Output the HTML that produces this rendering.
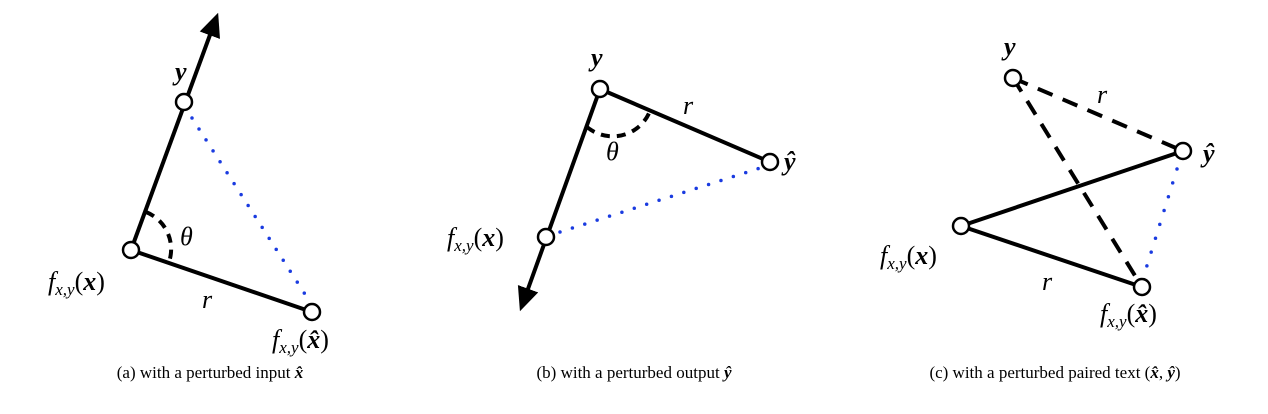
<!DOCTYPE html>
<html><head><meta charset="utf-8"><style>
html,body{margin:0;padding:0;background:#fff;}
svg{display:block;}
text{font-family:"Liberation Serif",serif;fill:#000;}
.m{font-style:italic;font-size:26px;}
.cap{font-size:17px;}
</style></head><body>
<svg width="1268" height="414" viewBox="0 0 1268 414">
<defs><marker id="ah" markerWidth="6" markerHeight="6" refX="3" refY="3" orient="auto" markerUnits="strokeWidth"><path d="M0,0.3 L6,3 L0,5.7 Z" fill="#000"/></marker></defs>
<g>
<line x1="131" y1="250" x2="214" y2="24" stroke="#000" stroke-width="4" marker-end="url(#ah)"/>
<line x1="131" y1="250" x2="312" y2="312" stroke="#000" stroke-width="4"/>
<line x1="192" y1="118" x2="310" y2="302" stroke="#1a3be0" stroke-width="3.5" stroke-dasharray="0 13" stroke-linecap="round"/>
<path d="M146,212 A40,40 0 0 1 169,262" fill="none" stroke="#000" stroke-width="4" stroke-dasharray="9 7"/>
<circle cx="131" cy="250" r="8" fill="#fff" stroke="#000" stroke-width="2.5"/>
<circle cx="184" cy="102" r="8" fill="#fff" stroke="#000" stroke-width="2.5"/>
<circle cx="312" cy="312" r="8" fill="#fff" stroke="#000" stroke-width="2.5"/>
<text class="m" x="175" y="80" font-weight="bold">y</text>
<text class="m" x="180" y="245">θ</text>
<text class="m" x="48" y="290">f<tspan font-size="17" dy="5">x,y</tspan><tspan dy="-5" font-style="normal">(</tspan><tspan font-weight="bold">x</tspan><tspan font-style="normal">)</tspan></text>
<text class="m" x="202" y="308">r</text>
<text class="m" x="272" y="348">f<tspan font-size="17" dy="5">x,y</tspan><tspan dy="-5" font-style="normal">(</tspan><tspan font-weight="bold">x̂</tspan><tspan font-style="normal">)</tspan></text>
<text class="cap" x="210" y="378" text-anchor="middle">(a) with a perturbed input <tspan font-style="italic" font-weight="bold">x̂</tspan></text>
</g>
<g>
<line x1="600" y1="89" x2="524" y2="300" stroke="#000" stroke-width="4" marker-end="url(#ah)"/>
<line x1="600" y1="89" x2="770" y2="162" stroke="#000" stroke-width="4"/>
<line x1="560" y1="232" x2="760" y2="168" stroke="#1a3be0" stroke-width="3.5" stroke-dasharray="0 13" stroke-linecap="round"/>
<path d="M587,127 A40,40 0 0 0 651,108" fill="none" stroke="#000" stroke-width="4" stroke-dasharray="9 7"/>
<circle cx="600" cy="89" r="8" fill="#fff" stroke="#000" stroke-width="2.5"/>
<circle cx="770" cy="162" r="8" fill="#fff" stroke="#000" stroke-width="2.5"/>
<circle cx="546" cy="237" r="8" fill="#fff" stroke="#000" stroke-width="2.5"/>
<text class="m" x="591" y="66" font-weight="bold">y</text>
<text class="m" x="784" y="170" font-weight="bold">ŷ</text>
<text class="m" x="606" y="160">θ</text>
<text class="m" x="683" y="114">r</text>
<text class="m" x="447" y="246">f<tspan font-size="17" dy="5">x,y</tspan><tspan dy="-5" font-style="normal">(</tspan><tspan font-weight="bold">x</tspan><tspan font-style="normal">)</tspan></text>
<text class="cap" x="634" y="378" text-anchor="middle">(b) with a perturbed output <tspan font-style="italic" font-weight="bold">ŷ</tspan></text>
</g>
<g>
<line x1="1013" y1="78" x2="1183" y2="151" stroke="#000" stroke-width="4" stroke-dasharray="16 11"/>
<line x1="1013" y1="78" x2="1142" y2="287" stroke="#000" stroke-width="4" stroke-dasharray="16 11"/>
<line x1="961" y1="226" x2="1183" y2="151" stroke="#000" stroke-width="4"/>
<line x1="961" y1="226" x2="1142" y2="287" stroke="#000" stroke-width="4"/>
<line x1="1177" y1="169" x2="1145" y2="272" stroke="#1a3be0" stroke-width="3.5" stroke-dasharray="0 14.5" stroke-linecap="round"/>
<circle cx="1013" cy="78" r="8" fill="#fff" stroke="#000" stroke-width="2.5"/>
<circle cx="1183" cy="151" r="8" fill="#fff" stroke="#000" stroke-width="2.5"/>
<circle cx="961" cy="226" r="8" fill="#fff" stroke="#000" stroke-width="2.5"/>
<circle cx="1142" cy="287" r="8" fill="#fff" stroke="#000" stroke-width="2.5"/>
<text class="m" x="1004" y="55" font-weight="bold">y</text>
<text class="m" x="1203" y="162" font-weight="bold">ŷ</text>
<text class="m" x="1097" y="103">r</text>
<text class="m" x="1042" y="290">r</text>
<text class="m" x="880" y="264">f<tspan font-size="17" dy="5">x,y</tspan><tspan dy="-5" font-style="normal">(</tspan><tspan font-weight="bold">x</tspan><tspan font-style="normal">)</tspan></text>
<text class="m" x="1100" y="322">f<tspan font-size="17" dy="5">x,y</tspan><tspan dy="-5" font-style="normal">(</tspan><tspan font-weight="bold">x̂</tspan><tspan font-style="normal">)</tspan></text>
<text class="cap" x="1055" y="378" text-anchor="middle">(c) with a perturbed paired text (<tspan font-style="italic" font-weight="bold">x̂</tspan>, <tspan font-style="italic" font-weight="bold">ŷ</tspan>)</text>
</g>
</svg>
</body></html>
